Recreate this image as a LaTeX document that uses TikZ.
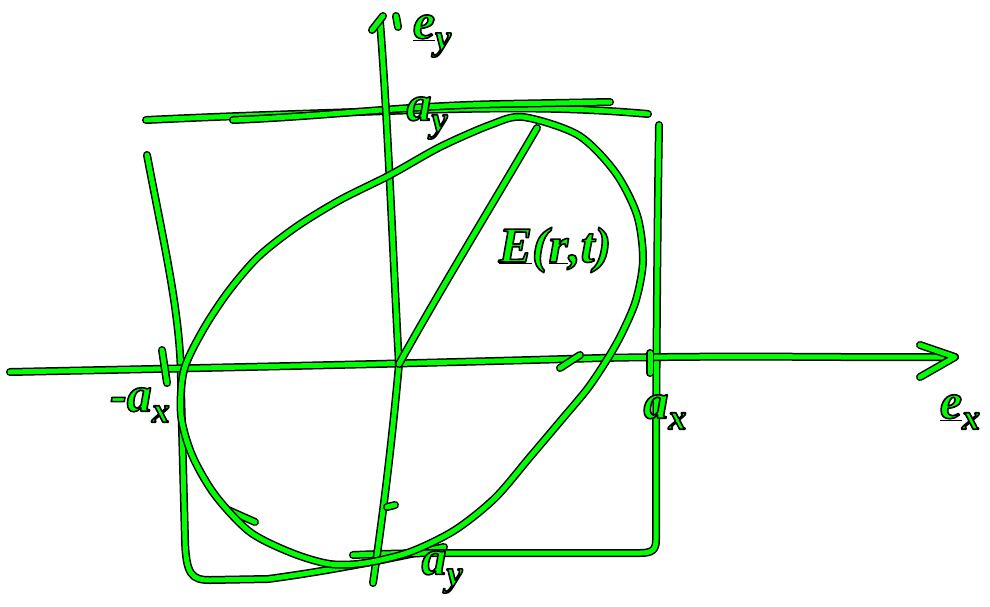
\documentclass[tikz,border=0pt]{standalone}
\usepackage{fontspec}
\setmainfont{Liberation Serif}
\definecolor{gr}{RGB}{0,255,0}
\tikzset{
  pen/.style={draw=gr, line width=5pt, line cap=round, line join=round,
              preaction={draw=black, line width=8pt, line cap=round, line join=round}},
  lbl/.style={inner sep=0pt, text=gr, font=\fontsize{50}{58}\selectfont\bfseries\itshape}
}
\newcommand\gtx[1]{\special{pdf:literal direct 2 Tr 1.6 w 0 G 1 j}#1\special{pdf:literal direct 0 Tr}}
\newcommand\sbs[1]{\raisebox{-0.22em}{\fontsize{36}{40}\selectfont #1}}
\begin{document}
\begin{tikzpicture}[x=1pt,y=-1pt]
\useasboundingbox (0,0) rectangle (990,606);
\fill[white] (0,0) rectangle (990,606);
% named points
\coordinate (O) at (399,364);
\coordinate (Etip) at (537,128);
\coordinate (xl) at (10,372);
\coordinate (xr) at (955,357);
\coordinate (yt) at (380,22);
\coordinate (yb) at (373,583);
\coordinate (hu) at (920,345);
\coordinate (hd) at (920,377);
% box: left side and bottom-left
\draw[pen] (147,155) .. controls (165,250) and (182,320) .. (181,390)
  -- (185,540) .. controls (186,575) and (192,580) .. (210,580)
  -- (268,579) .. controls (320,572) and (370,563) .. (444,547);
% box: right side and bottom
\draw[pen] (659,125) .. controls (657,250) and (656,400) .. (656,540)
  .. controls (656,550) and (652,553) .. (640,553) -- (478,553)
  .. controls (440,553) and (400,553) .. (353,555);
% top lines
\draw[pen] (146,120) .. controls (250,115) and (330,113) .. (387,111)
  .. controls (480,108) and (560,106) .. (648,114);
\draw[pen] (233,120) .. controls (330,116) and (400,106) .. (500,104) -- (610,102);
% x axis
\draw[pen] (xl) .. controls (200,368) and (400,364) .. (600,358)
  .. controls (750,355) and (850,358) .. (xr);
\draw[pen] (hu) -- (xr) -- (hd);
% y axis
\draw[pen] (yt) .. controls (388,120) and (395,300) .. (O)
  .. controls (392,440) and (385,500) .. (yb);
\draw[pen] (372,30) -- (383,16);
\draw[pen] (396,16) -- (398,27);
% ticks
\draw[pen] (162,350) -- (167,383);
\draw[pen] (650,353) -- (650,373);
\draw[pen] (560,368) -- (580,355);
\draw[pen] (387,507) -- (395,505);
\draw[pen] (228,510) -- (255,522);
% ellipse
\draw[pen] plot[smooth cycle, tension=0.5] coordinates {
  (523,117) (578,135) (615,172) (637,215) (643,260) (636,300) (622,333)
  (608,358) (588,388) (563,418) (530,457) (495,498) (455,530) (410,552)
  (365,563) (330,564) (292,553) (250,532) (215,495) (192,455) (181,415)
  (184,370) (203,330) (228,292) (258,257) (296,227) (340,200) (390,175)
  (440,147) (490,125)};
% E vector
\draw[pen] (Etip) .. controls (495,200) and (440,290) .. (O);
% labels
\node[lbl] (ley) at (432,36) {\gtx{\underline{e}\sbs{y}}};
\node[lbl] (lex) at (960,412) {\gtx{\underline{e}\sbs{x}}};
\node[lbl] (lay1) at (427,118) {\gtx{a\sbs{y}}};
\node[lbl] (lay2) at (442,572) {\gtx{a\sbs{y}}};
\node[lbl] (lax1) at (140,405) {\gtx{-a\sbs{x}}};
\node[lbl] (lax2) at (665,412) {\gtx{a\sbs{x}}};
\node[lbl] (lE) at (555,250) {\gtx{\underline{E}(\underline{r},t)}};
\end{tikzpicture}
\end{document}
